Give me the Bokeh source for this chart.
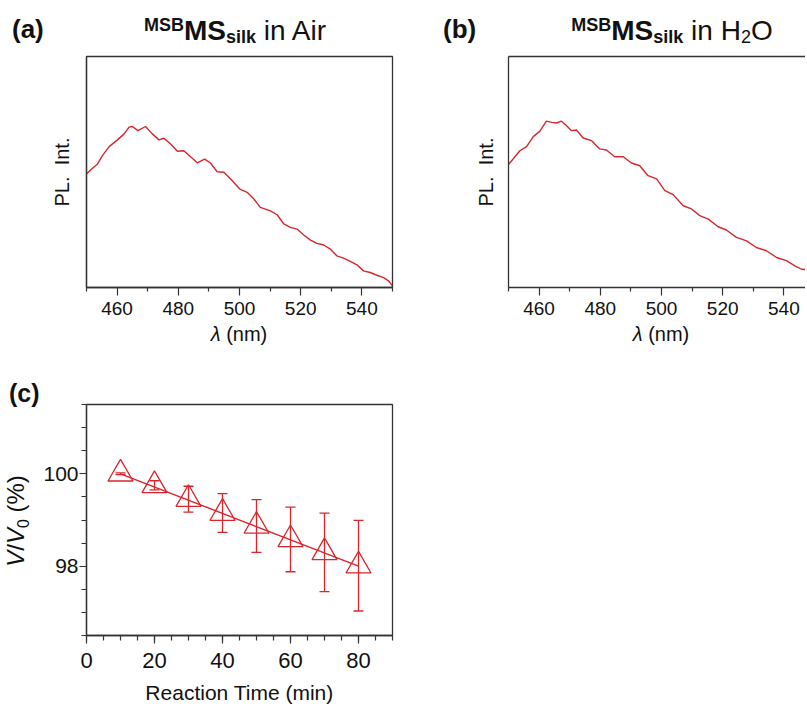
from bokeh.plotting import figure
from bokeh.layouts import column, row
from bokeh.models import (Range1d, FixedTicker, LinearAxis, Whisker, TeeHead,
                          ColumnDataSource, Div)
from bokeh.embed import file_html
from bokeh.resources import INLINE

# ---------------- data ----------------
# (a) PL spectrum, MS_silk in air (normalised intensity)
wl_air = [450.0, 451.4, 453.6, 455.2, 457.4, 460.1, 462.3, 463.9, 465.0, 466.8,
          469.3, 471.5, 473.7, 475.3, 477.5, 479.7, 481.8, 484.0, 486.2, 488.6,
          490.5, 492.7, 494.9, 497.1, 500.1, 502.5, 504.7, 506.8, 510.1, 512.3,
          514.5, 516.6, 518.8, 521.0, 523.2, 525.3, 527.5, 529.7, 531.8, 534.0,
          536.2, 538.4, 540.5, 542.7, 544.9, 547.1, 548.7, 550.0]
pl_air = [0.491, 0.510, 0.535, 0.571, 0.610, 0.639, 0.665, 0.694, 0.697, 0.679,
          0.697, 0.665, 0.639, 0.646, 0.621, 0.590, 0.592, 0.566, 0.540, 0.556,
          0.539, 0.501, 0.499, 0.470, 0.426, 0.412, 0.383, 0.347, 0.332, 0.315,
          0.275, 0.260, 0.253, 0.227, 0.205, 0.191, 0.184, 0.166, 0.137, 0.127,
          0.113, 0.098, 0.072, 0.065, 0.053, 0.043, 0.029, 0.007]

# (b) PL spectrum, MS_silk in H2O
wl_h2o = [450.0, 451.5, 453.7, 455.9, 458.1, 460.2, 462.4, 464.1, 465.7, 467.3,
          468.9, 470.6, 472.2, 474.4, 477.1, 479.8, 482.0, 484.7, 487.5, 490.2,
          492.9, 495.6, 498.4, 501.1, 503.8, 507.1, 509.8, 512.5, 515.3, 518.5,
          521.2, 524.5, 527.8, 531.0, 534.3, 537.6, 540.8, 543.6, 545.8, 547.5]
pl_h2o = [0.532, 0.556, 0.592, 0.610, 0.653, 0.676, 0.720, 0.715, 0.712, 0.720,
          0.701, 0.679, 0.682, 0.647, 0.636, 0.600, 0.595, 0.566, 0.566, 0.539,
          0.527, 0.484, 0.470, 0.419, 0.402, 0.354, 0.340, 0.311, 0.296, 0.263,
          0.249, 0.217, 0.202, 0.173, 0.159, 0.130, 0.116, 0.094, 0.079, 0.077]

# (c) volume ratio vs reaction time
time_min = [10, 20, 30, 40, 50, 60, 70, 80]
v_ratio = [100.0, 99.75, 99.45, 99.15, 98.87, 98.58, 98.30, 98.01]
v_err = [0.02, 0.10, 0.28, 0.42, 0.57, 0.70, 0.85, 0.98]
fit_time = [10, 80]
fit_ratio = [100.0, 98.0]

# ticks
wl_major = [460, 480, 500, 520, 540]
wl_minor = [450, 470, 490, 510, 530, 550]
time_major = [0, 20, 40, 60, 80]
time_minor = [0, 5, 10, 15, 20, 25, 30, 35, 40, 45, 50, 55, 60, 65, 70, 75, 80, 85, 90]
ratio_major = [98, 100]
ratio_minor = [96.5, 97.0, 97.5, 98.0, 98.5, 99.0, 99.5, 100.0, 100.5, 101.0, 101.5]

# ---------------- style ----------------
RED = "#d9262c"
AX = "#333333"
TXT = "#111111"
FONT = "Liberation Sans"


def svg_div(width, height, body):
    html = (f'<svg xmlns="http://www.w3.org/2000/svg" width="{width}" height="{height}" '
            f'style="display:block;overflow:visible" font-family="{FONT}" fill="{TXT}">'
            f'{body}</svg>')
    return Div(text=html, width=width, height=height, margin=(0, 0, 0, 0))


def style_axis(ax, size):
    ax.axis_line_color = AX
    ax.axis_line_width = 1.3
    ax.major_tick_line_color = AX
    ax.minor_tick_line_color = AX
    ax.major_tick_line_width = 1.2
    ax.minor_tick_line_width = 1.2
    ax.major_label_text_font = FONT
    ax.major_label_text_font_size = f"{size}px"
    ax.major_label_text_color = TXT
    ax.axis_label_text_font = FONT
    ax.axis_label_text_font_style = "normal"
    ax.axis_label_text_color = TXT


def blank_axis(ax):
    ax.ticker = FixedTicker(ticks=[])
    ax.major_tick_line_color = None
    ax.minor_tick_line_color = None
    ax.major_tick_out = 0
    ax.major_tick_in = 0
    ax.minor_tick_out = 0
    ax.minor_tick_in = 0
    ax.major_label_standoff = 0
    ax.major_label_text_font_size = "0px"
    ax.axis_line_color = AX
    ax.axis_line_width = 1.3


def spectrum_fig(wl, pl, width, left, right, x_end, outline):
    p = figure(width=width, height=279, output_backend="svg",
               toolbar_location=None, x_range=Range1d(450, x_end),
               y_range=Range1d(0, 1), min_border_left=left,
               min_border_right=right, min_border_top=8,
               min_border_bottom=40)
    p.grid.visible = False
    p.background_fill_color = "white"
    p.border_fill_color = "white"
    xa = p.below[0]
    if outline:
        p.outline_line_color = AX
        p.outline_line_width = 1.3
    else:
        p.outline_line_color = None
        top = LinearAxis()
        blank_axis(top)
        p.add_layout(top, "above")
    style_axis(xa, 19)
    xa.ticker = FixedTicker(ticks=wl_major, minor_ticks=wl_minor)
    xa.major_tick_out = 8
    xa.major_tick_in = 0
    xa.minor_tick_out = 4
    xa.minor_tick_in = 0
    xa.major_label_standoff = 6
    blank_axis(p.left[0])
    p.line(wl, pl, line_color=RED, line_width=1.4)
    return p


# ---------------- titles ----------------
title_body = (
    '<text x="12" y="38" font-size="26" font-weight="bold">(a)</text>'
    '<text x="235" y="40" text-anchor="middle" font-size="28" font-weight="bold">'
    '<tspan font-size="18" dy="-9">MSB</tspan><tspan dy="9">MS</tspan>'
    '<tspan font-size="18" dy="3">silk</tspan>'
    '<tspan font-weight="normal" dy="-3"> in Air</tspan></text>'
    '<text x="443" y="38" font-size="26" font-weight="bold">(b)</text>'
    '<text x="672" y="40" text-anchor="middle" font-size="28" font-weight="bold">'
    '<tspan font-size="18" dy="-9">MSB</tspan><tspan dy="9">MS</tspan>'
    '<tspan font-size="18" dy="3">silk</tspan>'
    '<tspan font-weight="normal" dy="-3"> in H</tspan>'
    '<tspan font-weight="normal" font-size="18" dy="3">2</tspan>'
    '<tspan font-weight="normal" dy="-3">O</tspan></text>'
)
title_div = svg_div(805, 48, title_body)

ylab = ('<text transform="translate({x},124) rotate(-90)" text-anchor="middle" '
        'dominant-baseline="central" font-size="20">PL.&#160;&#160;Int.</text>')
ya_div = svg_div(70, 279, ylab.format(x=62))
yb_div = svg_div(96, 279, ylab.format(x=86))

xlab_body = (
    '<text x="239" y="14" text-anchor="middle" font-size="20">'
    '<tspan font-style="italic">λ</tspan> (nm)</text>'
    '<text x="661" y="14" text-anchor="middle" font-size="20">'
    '<tspan font-style="italic">λ</tspan> (nm)</text>'
)
xlab_div = svg_div(805, 20, xlab_body)

pa = spectrum_fig(wl_air, pl_air, 330, 16, 8, 550, True)
pb = spectrum_fig(wl_h2o, pl_h2o, 309, 12, 0, 547.06, False)

# ---------------- (c) ----------------
pc = figure(width=360, height=360, output_backend="svg", toolbar_location=None,
            x_range=Range1d(0, 90), y_range=Range1d(96.5, 101.5),
            min_border_left=46, min_border_right=8, min_border_top=57,
            min_border_bottom=72)
pc.grid.visible = False
pc.outline_line_color = AX
pc.outline_line_width = 1.3
xc = pc.below[0]
style_axis(xc, 22)
xc.ticker = FixedTicker(ticks=time_major, minor_ticks=time_minor)
xc.major_tick_out = 8
xc.major_tick_in = 0
xc.minor_tick_out = 5
xc.minor_tick_in = 0
xc.major_label_standoff = 9
xc.axis_label = "Reaction Time (min)"
xc.axis_label_text_font_size = "21px"
xc.axis_label_standoff = 10
yc = pc.left[0]
style_axis(yc, 21)
yc.ticker = FixedTicker(ticks=ratio_major, minor_ticks=ratio_minor)
yc.major_tick_out = 7
yc.major_tick_in = 0
yc.minor_tick_out = 5
yc.minor_tick_in = 0
yc.major_label_standoff = 1

upper = [v + e for v, e in zip(v_ratio, v_err)]
lower = [v - e for v, e in zip(v_ratio, v_err)]
src = ColumnDataSource(dict(x=time_min, y=v_ratio, upper=upper, lower=lower))
pc.add_layout(Whisker(source=src, base="x", upper="upper", lower="lower",
                      line_color=RED, line_width=1.3,
                      upper_head=TeeHead(size=10, line_color=RED, line_width=1.3),
                      lower_head=TeeHead(size=10, line_color=RED, line_width=1.3)))
pc.line(fit_time, fit_ratio, line_color=RED, line_width=1.4)
pc.scatter("x", "y", source=src, marker="triangle", size=25, fill_color=None,
           line_color=RED, line_width=1.3)

yc_body = (
    '<text x="9" y="55" font-size="25" font-weight="bold">(c)</text>'
    '<text transform="translate(24,174) rotate(-90)" text-anchor="middle" font-size="24">'
    '<tspan font-style="italic">V</tspan>/<tspan font-style="italic">V</tspan>'
    '<tspan font-size="16" dy="5">0</tspan><tspan dy="-5"> (%)</tspan></text>'
)
yc_div = svg_div(40, 360, yc_body)

layout = column(title_div, row(ya_div, pa, yb_div, pb), xlab_div, row(yc_div, pc),
                spacing=0)
open("out.html", "w").write(file_html(layout, INLINE))
